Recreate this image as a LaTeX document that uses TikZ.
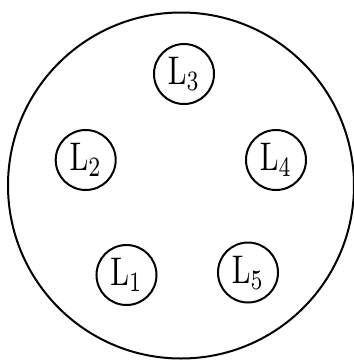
\documentclass[tikz,border=0pt]{standalone}
\newcommand{\lsub}[1]{\scalebox{3.0}[4.0]{$\mathrm{L}_{#1}$}}
\begin{document}
\begin{tikzpicture}[x=1pt,y=-1pt,
  ring/.style={draw,circle,line width=2pt,inner sep=0pt},
  lnode/.style={ring,minimum size=60pt}]
\useasboundingbox (0,0) rectangle (354,360);
\node[ring,minimum size=346pt] (outer) at (181,185.5) {};
\node[lnode] (l1) at (126.5,275) {\lsub{1}};
\node[lnode] (l2) at (85.7,160) {\lsub{2}};
\node[lnode] (l3) at (184,74) {\lsub{3}};
\node[lnode] (l4) at (276,160) {\lsub{4}};
\node[lnode] (l5) at (248,272.5) {\lsub{5}};
\end{tikzpicture}
\end{document}
